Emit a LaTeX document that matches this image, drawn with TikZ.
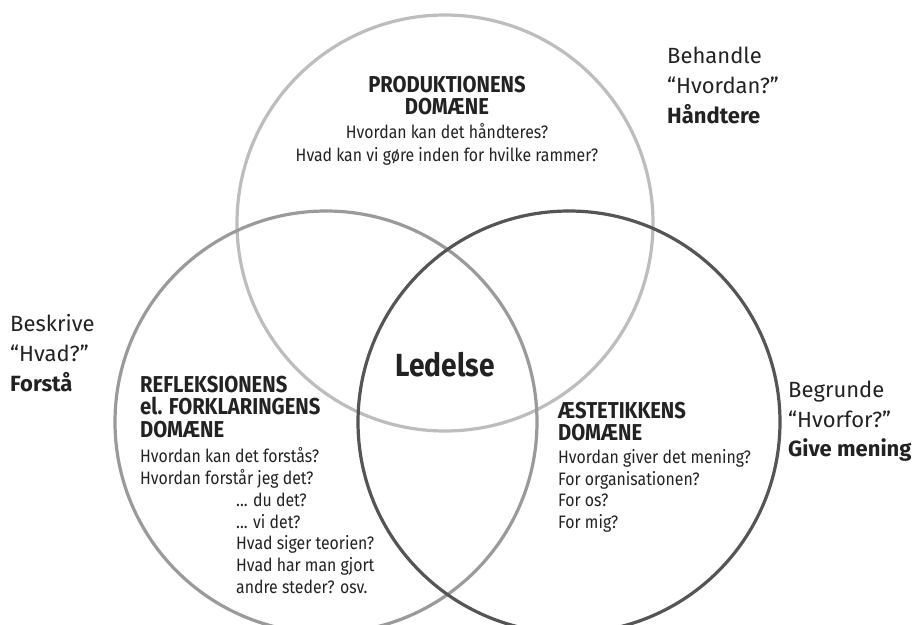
\documentclass[tikz,border=0pt]{standalone}
\usepackage{fontspec}
\setmainfont{Fira Sans}[FakeStretch=0.88]
\newfontfamily\widefont{Fira Sans}
\definecolor{ctop}{HTML}{BDBDBD}
\definecolor{cleft}{HTML}{9A9A9A}
\definecolor{cright}{HTML}{555555}
\definecolor{ink}{HTML}{222222}
\begin{document}
\begin{tikzpicture}[x=1pt,y=-1pt,
  ring/.style={line width=3.2pt},
  body/.style={inner sep=0,text=ink,font=\fontsize{18}{22}\selectfont},
  head/.style={inner sep=0,text=ink,font=\fontsize{23}{22}\selectfont\bfseries},
  outer/.style={inner sep=0,text=ink,anchor=base west,font=\widefont\fontsize{22}{29}\selectfont},
  outerb/.style={inner sep=0,text=ink,anchor=base west,font=\widefont\fontsize{22}{29}\selectfont\bfseries},
  ]
\useasboundingbox (0,0) rectangle (912,624);
\clip (0,0) rectangle (912,624);
\fill[white] (0,0) rectangle (912,624);
% circles
\draw[ring,ctop] (445,223) circle[radius=208];
\draw[ring,cleft] (326,422) circle[radius=211];
\draw[ring,cright] (569,422) circle[radius=211];
% top block
\node[head,anchor=base] (p1) at (447,92) {PRODUKTIONENS};
\node[head,anchor=base] (p2) at (447,114) {DOMÆNE};
\node[body,anchor=base] (p3) at (447,138) {Hvordan kan det håndteres?};
\node[body,anchor=base] (p4) at (447,161) {Hvad kan vi gøre inden for hvilke rammer?};
% left block
\node[head,anchor=base west] (r1) at (140,392) {REFLEKSIONENS};
\node[head,anchor=base west] (r2) at (140,414) {el. FORKLARINGENS};
\node[head,anchor=base west] (r3) at (140,437) {DOMÆNE};
\node[body,anchor=base west] (r4) at (140,462) {Hvordan kan det forstås?};
\node[body,anchor=base west] (r5) at (140,484) {Hvordan forstår jeg det?};
\node[body,anchor=base west] (r6) at (236,506) {... du det?};
\node[body,anchor=base west] (r7) at (236,528) {... vi det?};
\node[body,anchor=base west] (r8) at (236,549) {Hvad siger teorien?};
\node[body,anchor=base west] (r9) at (236,571) {Hvad har man gjort};
\node[body,anchor=base west] (r10) at (236,593) {andre steder? osv.};
% right block
\node[head,anchor=base west] (a1) at (558,418) {ÆSTETIKKENS};
\node[head,anchor=base west] (a2) at (558,440) {DOMÆNE};
\node[body,anchor=base west] (a3) at (558,463) {Hvordan giver det mening?};
\node[body,anchor=base west] (a4) at (558,485) {For organisationen?};
\node[body,anchor=base west] (a5) at (558,506) {For os?};
\node[body,anchor=base west] (a6) at (558,528) {For mig?};
% centre
\node[inner sep=0,text=ink,anchor=base,font=\fontsize{32}{32}\selectfont\bfseries] (led) at (445,376) {Ledelse};
% outer labels
\node[outer] (b1) at (667,63) {Behandle};
\node[outer] (b2) at (667,93) {“Hvordan?”};
\node[outerb] (b3) at (667,123) {Håndtere};
\node[outer] (s1) at (10,331) {Beskrive};
\node[outer] (s2) at (10,361) {“Hvad?”};
\node[outerb] (s3) at (10,391) {Forstå};
\node[outer] (g1) at (788,397) {Begrunde};
\node[outer] (g2) at (788,427) {“Hvorfor?”};
\node[outerb] (g3) at (788,456) {Give mening};
\end{tikzpicture}
\end{document}
